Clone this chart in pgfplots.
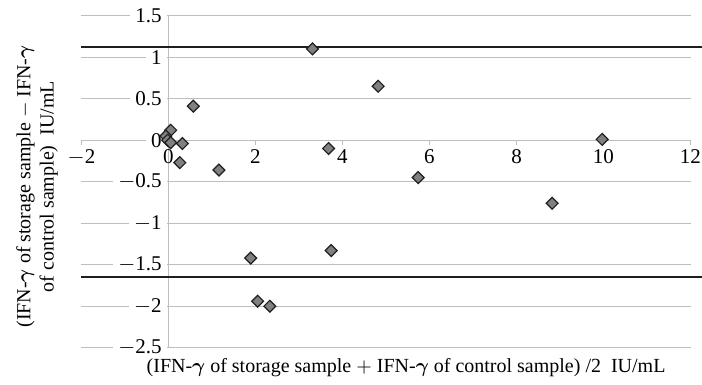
\documentclass[border=0pt]{standalone}
\usepackage{fontspec}
\setmainfont{Liberation Serif}
\usepackage{bm}
\usepackage{pgfplots}
\pgfplotsset{compat=1.18}
\definecolor{gridgray}{RGB}{190,190,190}
\definecolor{markgray}{RGB}{128,128,128}
\definecolor{edgedark}{RGB}{30,30,30}
\begin{document}
\fontsize{10}{11.7}\selectfont
\begin{tikzpicture}
\begin{axis}[
  scale only axis, width=304.5pt, height=166pt,
  xmin=-2, xmax=12, ymin=-2.5, ymax=1.5,
  clip=false,
  axis x line=middle, axis y line=middle,
  axis line style={-, draw=gridgray, line width=0.6pt},
  hide obscured x ticks=false, hide obscured y ticks=false,
  xtick={-2,0,2,4,6,8,10,12},
  xticklabels={$-$2,0,2,4,6,8,10,12},
  ytick={-2.5,-2,-1.5,-1,-0.5,0,0.5,1,1.5},
  yticklabels={$-$2.5,$-$2,$-$1.5,$-$1,$-$0.5,0,0.5,1,1.5},
  ymajorgrids, grid style={draw=gridgray, line width=0.6pt},
  x tick style={draw=gridgray, line width=0.6pt},
  major tick length=2.5pt,
  xtick align=outside,
  y tick style={draw=none},
  ticklabel style={font=\fontsize{10.5}{12}\selectfont},
  yticklabel style={fill=white, inner xsep=2.5pt, inner ysep=1pt, xshift=0.5pt, anchor=east},
  xticklabel style={inner sep=1pt, yshift=-1pt},
  xlabel={(IFN-$\bm{\gamma}$ of storage sample $+$ IFN-$\bm{\gamma}$ of control sample) /2\ \ IU/mL},
  xlabel style={at={(axis description cs:0.533,-0.06)}, anchor=center},
  ylabel={(IFN-$\bm{\gamma}$ of storage sample $-$ IFN-$\bm{\gamma}$\\of control sample)\ \ IU/mL},
  ylabel style={at={(axis description cs:-0.073,0.4855)}, rotate=90, anchor=center, align=center,
    font=\fontsize{10}{11.7}\selectfont},
]
\addplot[edgedark, line width=1pt] coordinates {(-2,1.127) (12.26,1.127)};
\addplot[edgedark, line width=1pt] coordinates {(-2,-1.652) (12.26,-1.652)};
\addplot[only marks, mark=square*, mark size=2.1pt,
  mark options={rotate=45, fill=markgray, draw=edgedark, line width=0.6pt}]
  coordinates {
  (0.05,0.12) (-0.06,0.05) (-0.02,0.0) (0.05,-0.03) (0.32,-0.04) (0.26,-0.27)
  (0.57,0.41) (1.16,-0.36) (3.31,1.1) (4.82,0.65) (3.68,-0.1) (5.74,-0.45)
  (9.97,0.01) (8.82,-0.76) (3.74,-1.33) (1.89,-1.42) (2.05,-1.94) (2.33,-2.0)
  };
\coordinate (sw) at (rel axis cs:0,0);
\coordinate (ne) at (rel axis cs:1,1);
\end{axis}
\pgfresetboundingbox
\path[use as bounding box] ([xshift=-40.75pt,yshift=-18.65pt]sw) rectangle ([xshift=5.75pt,yshift=7.85pt]ne);
\end{tikzpicture}
\end{document}
